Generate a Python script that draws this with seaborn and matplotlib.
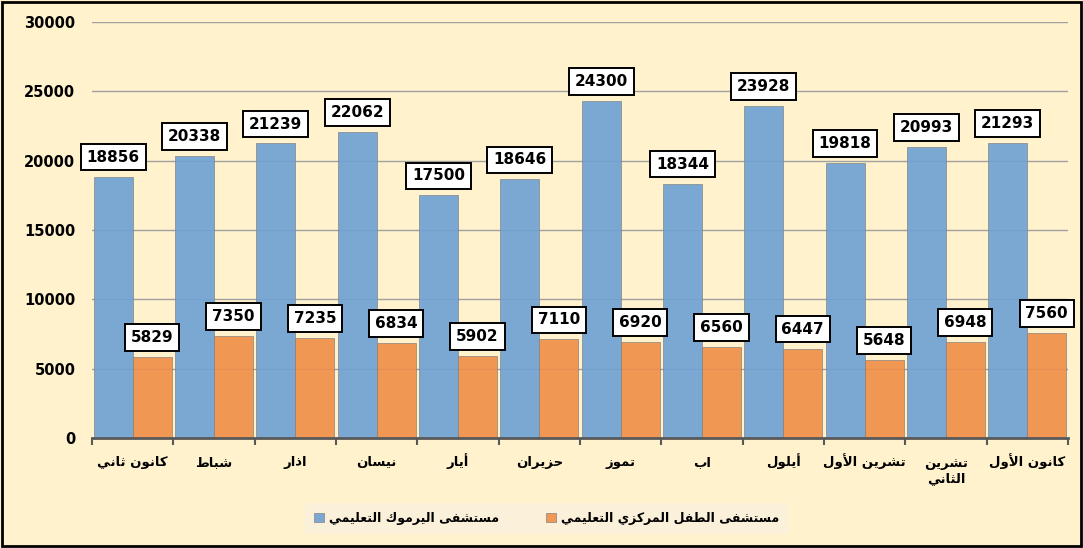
import numpy as np
import pandas as pd
import seaborn as sns
import matplotlib.pyplot as plt
import matplotlib.transforms as mtransforms
from matplotlib.patches import Rectangle

# data
months = ["كانون ثاني", "شباط", "اذار", "نيسان", "أيار", "حزيران", "تموز", "اب",
          "أيلول", "تشرين الأول", "تشرين\nالثاني", "كانون الأول"]
yarmouk = [18856, 20338, 21239, 22062, 17500, 18646, 24300, 18344, 23928, 19818, 20993, 21293]
child = [5829, 7350, 7235, 6834, 5902, 7110, 6920, 6560, 6447, 5648, 6948, 7560]
series_names = ["مستشفى اليرموك التعليمي", "مستشفى الطفل المركزي التعليمي"]
colors = ["#70A3D3", "#F0904B"]

# arabic shaping (matplotlib draws left to right, no joining)
FORMS = {
    'ا': ('\uFE8D', '\uFE8E', None, None), 'أ': ('\uFE83', '\uFE84', None, None),
    'ب': ('\uFE8F', '\uFE90', '\uFE91', '\uFE92'), 'ت': ('\uFE95', '\uFE96', '\uFE97', '\uFE98'),
    'ث': ('\uFE99', '\uFE9A', '\uFE9B', '\uFE9C'), 'ح': ('\uFEA1', '\uFEA2', '\uFEA3', '\uFEA4'),
    'ذ': ('\uFEAB', '\uFEAC', None, None), 'ر': ('\uFEAD', '\uFEAE', None, None),
    'ز': ('\uFEAF', '\uFEB0', None, None), 'س': ('\uFEB1', '\uFEB2', '\uFEB3', '\uFEB4'),
    'ش': ('\uFEB5', '\uFEB6', '\uFEB7', '\uFEB8'), 'ط': ('\uFEC1', '\uFEC2', '\uFEC3', '\uFEC4'),
    'ع': ('\uFEC9', '\uFECA', '\uFECB', '\uFECC'), 'ف': ('\uFED1', '\uFED2', '\uFED3', '\uFED4'),
    'ك': ('\uFED9', '\uFEDA', '\uFEDB', '\uFEDC'), 'ل': ('\uFEDD', '\uFEDE', '\uFEDF', '\uFEE0'),
    'م': ('\uFEE1', '\uFEE2', '\uFEE3', '\uFEE4'), 'ن': ('\uFEE5', '\uFEE6', '\uFEE7', '\uFEE8'),
    'و': ('\uFEED', '\uFEEE', None, None), 'ى': ('\uFEEF', '\uFEF0', None, None),
    'ي': ('\uFEF1', '\uFEF2', '\uFEF3', '\uFEF4'),
}
LAM_ALEF = {'ا': ('\uFEFB', '\uFEFC'), 'أ': ('\uFEF7', '\uFEF8')}


def shape_line(text):
    toks, i = [], 0
    while i < len(text):
        if text[i] == 'ل' and i + 1 < len(text) and text[i + 1] in LAM_ALEF:
            toks.append(('LA', text[i + 1]))
            i += 2
        else:
            toks.append(text[i])
            i += 1

    def joins_left(t):
        return isinstance(t, str) and t in FORMS and FORMS[t][2] is not None

    def is_ar(t):
        return isinstance(t, tuple) or t in FORMS

    out = []
    for k, t in enumerate(toks):
        prev = toks[k - 1] if k > 0 else None
        nxt = toks[k + 1] if k + 1 < len(toks) else None
        r = prev is not None and joins_left(prev)
        if isinstance(t, tuple):
            iso, fin = LAM_ALEF[t[1]]
            out.append(fin if r else iso)
            continue
        if t not in FORMS:
            out.append(t)
            continue
        iso, fin, ini, med = FORMS[t]
        l = nxt is not None and is_ar(nxt) and ini is not None
        out.append(med if (r and l) else fin if r else ini if l else iso)
    return ''.join(out)[::-1]


def ar(text):
    return '\n'.join(shape_line(s) for s in text.split('\n'))


labels = [ar(m) for m in months]
df = pd.DataFrame({
    "month": labels * 2,
    "value": yarmouk + child,
    "hospital": [ar(series_names[0])] * 12 + [ar(series_names[1])] * 12,
})

plt.rcParams['font.family'] = ['DejaVu Sans']
plt.rcParams['font.weight'] = 'bold'

fig = plt.figure(figsize=(10.83, 5.48), dpi=100, facecolor="#FFF2CC")
ax = fig.add_axes([0.085, 0.2007, 0.901, 0.7592])
ax.set_facecolor("#FFF2CC")

sns.barplot(data=df, x="month", y="value", hue="hospital", palette=colors,
            width=0.96, gap=0, saturation=1, alpha=0.93, edgecolor="#7F7F7F",
            linewidth=0.5, ax=ax)

# value boxes
for cont in ax.containers:
    for bar in cont:
        h = bar.get_height()
        ax.annotate(f"{int(h)}", xy=(bar.get_x() + bar.get_width() / 2, h),
                    xytext=(0, 14), textcoords="offset points",
                    ha="center", va="center", fontsize=11, fontweight="bold",
                    bbox=dict(boxstyle="square,pad=0.38", fc="white", ec="black", lw=1.4))

ax.set_ylim(0, 30000)
ax.set_xlim(-0.5, 11.5)
ax.set_yticks(range(0, 30001, 5000))
ax.yaxis.grid(True, color="#A0A0A0", lw=1)
ax.set_axisbelow(True)
ax.tick_params(axis="y", length=0, pad=12, labelsize=10.5)
for lab in ax.get_yticklabels():
    lab.set_fontweight("bold")

# month labels, baseline aligned (the two-line one hangs below)
ax.set_xticks(range(12))
ax.set_xticklabels([])
ax.tick_params(axis="x", length=0)
ax.set_xticks(np.arange(-0.5, 12, 1), minor=True)
ax.tick_params(axis="x", which="minor", length=5, width=1.5, color="#595959")
trans = mtransforms.blended_transform_factory(ax.transData, ax.transAxes)
for i, lab in enumerate(labels):
    y = -0.105 if "\n" in lab else -0.0673
    ax.text(i, y, lab, transform=trans, ha="center", va="baseline",
            fontsize=9.5, fontweight="bold", linespacing=1.15)

ax.set_xlabel("")
ax.set_ylabel("")
for s in ["left", "right", "top"]:
    ax.spines[s].set_visible(False)
ax.spines["bottom"].set_color("#595959")
ax.spines["bottom"].set_linewidth(2)

ax.legend(loc="center", bbox_to_anchor=(0.466, -0.193), ncol=2, frameon=True,
          facecolor="#FBF0DA", edgecolor="none", framealpha=1, fancybox=False,
          handlelength=0.8, handleheight=0.8, handletextpad=0.4, columnspacing=3.8,
          borderpad=0.7, borderaxespad=0, prop={"weight": "bold", "size": 9})

fig.patches.append(Rectangle((0.002, 0.003), 0.996, 0.994, transform=fig.transFigure,
                             fill=False, ec="black", lw=2))

plt.savefig("out.png", dpi=100, facecolor=fig.get_facecolor())
